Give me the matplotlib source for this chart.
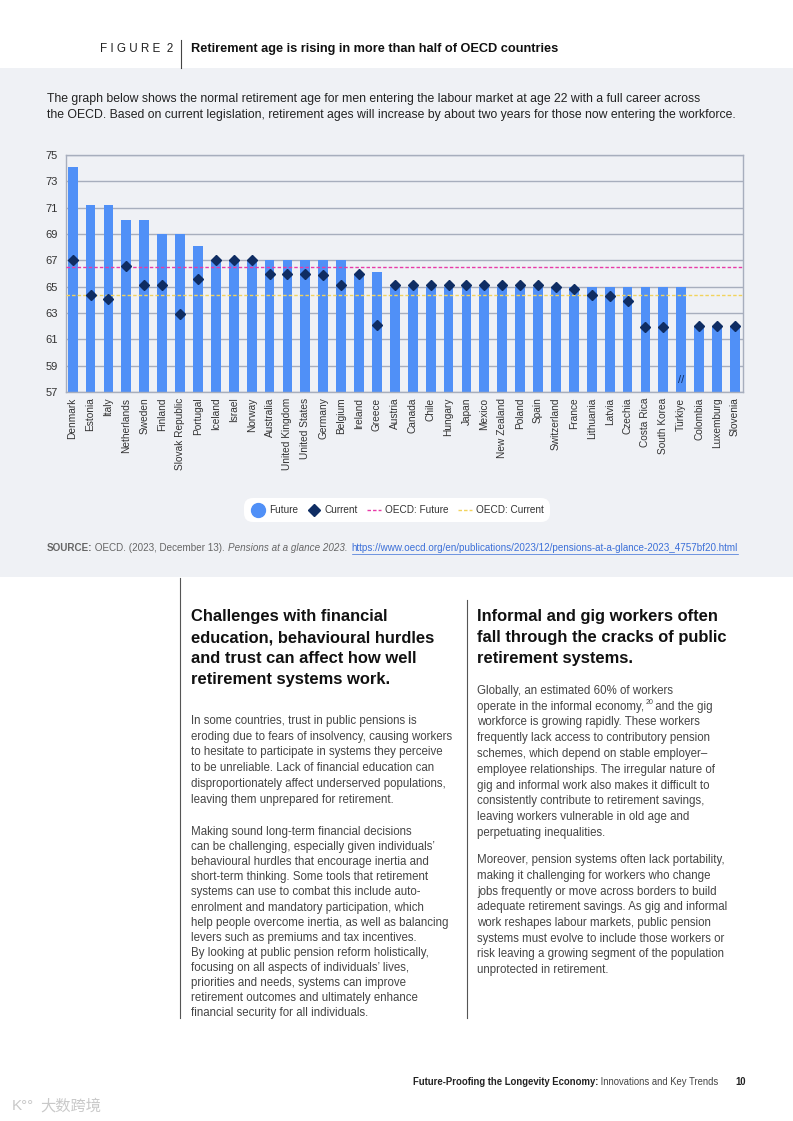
import matplotlib
matplotlib.use("Agg")
import matplotlib.pyplot as plt
from matplotlib.lines import Line2D
from matplotlib.patches import Rectangle

# ---------------- Data ----------------
countries = ["Denmark", "Estonia", "Italy", "Netherlands", "Sweden", "Finland",
             "Slovak Republic", "Portugal", "Iceland", "Israel", "Norway", "Australia",
             "United Kingdom", "United States", "Germany", "Belgium", "Ireland", "Greece",
             "Austria", "Canada", "Chile", "Hungary", "Japan", "Mexico", "New Zealand",
             "Poland", "Spain", "Switzerland", "France", "Lithuania", "Latvia", "Czechia",
             "Costa Rica", "South Korea", "Türkiye", "Colombia", "Luxemburg", "Slovenia"]
future = [74.1, 71.2, 71.2, 70.1, 70.1, 69.0, 69.0, 68.1, 67.0, 67.0, 67.0, 67.0,
          67.0, 67.0, 67.0, 67.0, 66.0, 66.1, 65.0, 65.0, 65.0, 65.0, 65.0, 65.0,
          65.0, 65.0, 65.0, 65.0, 65.0, 65.0, 65.0, 65.0, 65.0, 65.0, 65.0, 62.0,
          62.0, 62.0]
current = [67.0, 64.4, 64.1, 66.6, 65.1, 65.1, 62.9, 65.6, 67.0, 67.0, 67.0, 66.0,
           66.0, 66.0, 65.9, 65.1, 66.0, 62.1, 65.1, 65.1, 65.1, 65.1, 65.1, 65.1,
           65.1, 65.1, 65.1, 65.0, 64.8, 64.4, 64.3, 63.9, 61.9, 61.9, 52.0, 62.0,
           62.0, 62.0]
oecd_future = 66.5
oecd_current = 64.4
y_ticks = [57, 59, 61, 63, 65, 67, 69, 71, 73, 75]
break_country = "Türkiye"

# ---------------- Style ----------------
W, H = 793, 1121
BAND = "#eff1f5"
BLUE = "#5090f7"
NAVY = "#0f2d63"
PINK = "#e83aa8"
YELLOW = "#f2d35c"
GRID = "#a7aebd"
BODY = "#454545"
FONT = "Liberation Sans"

plt.rcParams["font.family"] = [FONT, "DejaVu Sans"]


def fx(x):
    return x / W


def fy(y):
    return 1 - y / H


fig = plt.figure(figsize=(W / 100, H / 100), dpi=100)
fig.patch.set_facecolor("white")
renderer = fig.canvas.get_renderer()

# grey band behind the figure block
fig.patches.append(Rectangle((0, fy(577)), 1, fy(68) - fy(577), transform=fig.transFigure,
                             facecolor=BAND, edgecolor="none", zorder=-5))


def put(x, y, s, size, color="#222222", weight="normal", style="normal", **kw):
    return fig.text(fx(x), fy(y), s, fontsize=size, color=color, fontweight=weight,
                    fontstyle=style, va="center", ha="left", **kw)


def run(x, y, pieces, gap=0):
    """Place text pieces one after another on one line."""
    for s, size, color, weight, style in pieces:
        t = put(x, y, s, size, color, weight, style)
        bb = t.get_window_extent(renderer)
        x += bb.width + gap
    return x


def vline(x, y0, y1, color="#555555", lw=0.8):
    fig.add_artist(Line2D([fx(x), fx(x)], [fy(y0), fy(y1)], transform=fig.transFigure,
                          color=color, lw=lw))


# ---------------- Header ----------------
put(100, 49, "F I G U R E  2", 8.4, "#222222")
vline(181, 40, 68, "#444444")
put(191, 49, "Retirement age is rising in more than half of OECD countries", 9.2,
    "#111111", "bold")

put(47, 99, "The graph below shows the normal retirement age for men entering the labour "
            "market at age 22 with a full career across", 8.85, "#222222")
put(47, 115, "the OECD. Based on current legislation, retirement ages will increase by "
             "about two years for those now entering the workforce.", 8.85, "#222222")

# ---------------- Chart ----------------
ax = fig.add_axes([fx(66), fy(392), (743 - 66) / W, (392 - 155) / H])
ax.set_facecolor(BAND)
x = list(range(len(countries)))
ax.bar(x, future, width=0.55, color=BLUE, zorder=2)
ax.plot(x, current, linestyle="none", marker="D", markersize=4.8, color=NAVY, zorder=4)
ax.axhline(oecd_future, color=PINK, lw=1.0, ls=(0, (2.5, 1.5)), zorder=3)
ax.axhline(oecd_current, color=YELLOW, lw=1.0, ls=(0, (2.5, 1.5)), zorder=3)

# axis break marker for the value below the axis
bi = countries.index(break_country)
ax.text(bi, y_ticks[0] + 0.9, "//", ha="center", va="center", fontsize=8, color=NAVY,
        zorder=5)

ax.set_ylim(y_ticks[0], y_ticks[-1])
ax.set_xlim(-0.37, len(countries) - 0.55)
ax.set_yticks(y_ticks)
ax.set_xticks(x)
ax.set_xticklabels(countries, rotation=90, color="#333333")
ax.tick_params(axis="both", length=0, labelcolor="#333333")
ax.tick_params(axis="x", pad=4, labelsize=7.3)
ax.tick_params(axis="y", pad=6, labelsize=8)
ax.grid(axis="y", color=GRID, lw=1.0, zorder=1)
ax.set_axisbelow(True)
for sp in ax.spines.values():
    sp.set_color(GRID)
    sp.set_linewidth(1.0)

# ---------------- Legend ----------------
handles = [
    Line2D([], [], linestyle="none", marker="o", markersize=10, color=BLUE, label="Future"),
    Line2D([], [], linestyle="none", marker="D", markersize=6.5, color=NAVY, label="Current"),
    Line2D([], [], color=PINK, lw=1.0, ls=(0, (2.5, 1.5)), label="OECD: Future"),
    Line2D([], [], color=YELLOW, lw=1.0, ls=(0, (2.5, 1.5)), label="OECD: Current"),
]
leg = fig.legend(handles=handles, loc="center", bbox_to_anchor=(fx(397), fy(510)),
                 ncol=4, fontsize=7.2, frameon=True, handlelength=1.4, handletextpad=0.4,
                 columnspacing=0.9, borderpad=0.5, labelcolor="#333333")
frame = leg.get_frame()
frame.set_facecolor("white")
frame.set_edgecolor("none")
frame.set_alpha(1)
frame.set_boxstyle("round,pad=0.2,rounding_size=0.9")

# ---------------- Source ----------------
SRC = 7.1
end = run(47, 548, [
    ("SOURCE:", SRC, "#666666", "bold", "normal"),
    (" OECD. (2023, December 13). ", SRC, "#666666", "normal", "normal"),
    ("Pensions at a glance 2023.", SRC, "#666666", "normal", "italic"),
])
end += 4
link = put(end, 548, "https://www.oecd.org/en/publications/2023/12/pensions-at-a-glance-2023_4757bf20.html",
           SRC, "#3b6fd8")
lb = link.get_window_extent(renderer)
fig.add_artist(Line2D([fx(end), fx(end + lb.width)], [fy(553.5), fy(553.5)],
                      transform=fig.transFigure, color="#3b6fd8", lw=0.5))

# ---------------- Text columns ----------------
vline(180, 578, 1018)
vline(467, 600, 1018)

HEAD = 11.9
left_head = ["Challenges with financial", "education, behavioural hurdles",
             "and trust can affect how well", "retirement systems work."]
right_head = ["Informal and gig workers often", "fall through the cracks of public",
              "retirement systems."]
for i, s in enumerate(left_head):
    put(191, 617 + i * 20.7, s, HEAD, "#111111", "bold")
for i, s in enumerate(right_head):
    put(477, 617 + i * 20.7, s, HEAD, "#111111", "bold")

TXT = 8.3
LS = 15.75
left_p1 = ["In some countries, trust in public pensions is",
           "eroding due to fears of insolvency, causing workers",
           "to hesitate to participate in systems they perceive",
           "to be unreliable. Lack of financial education can",
           "disproportionately affect underserved populations,",
           "leaving them unprepared for retirement."]
left_p2 = ["Making sound long-term financial decisions",
           "can be challenging, especially given individuals\u2019",
           "behavioural hurdles that encourage inertia and",
           "short-term thinking. Some tools that retirement",
           "systems can use to combat this include auto-",
           "enrolment and mandatory participation, which",
           "help people overcome inertia, as well as balancing",
           "levers such as premiums and tax incentives.",
           "By looking at public pension reform holistically,",
           "focusing on all aspects of individuals\u2019 lives,",
           "priorities and needs, systems can improve",
           "retirement outcomes and ultimately enhance",
           "financial security for all individuals."]
right_p1 = ["Globally, an estimated 60% of workers",
            "operate in the informal economy,",
            "workforce is growing rapidly. These workers",
            "frequently lack access to contributory pension",
            "schemes, which depend on stable employer\u2013",
            "employee relationships. The irregular nature of",
            "gig and informal work also makes it difficult to",
            "consistently contribute to retirement savings,",
            "leaving workers vulnerable in old age and",
            "perpetuating inequalities."]
right_p2 = ["Moreover, pension systems often lack portability,",
            "making it challenging for workers who change",
            "jobs frequently or move across borders to build",
            "adequate retirement savings. As gig and informal",
            "work reshapes labour markets, public pension",
            "systems must evolve to include those workers or",
            "risk leaving a growing segment of the population",
            "unprotected in retirement."]

for i, s in enumerate(left_p1):
    put(191, 721 + i * LS, s, TXT, BODY)
for i, s in enumerate(left_p2):
    put(191, 832 + i * 15.1, s, TXT, BODY)
for i, s in enumerate(right_p1):
    yy = 691 + i * LS
    if i == 1:
        e = run(477, yy, [(s, TXT, BODY, "normal", "normal")])
        put(e + 1, yy - 4, "20", 5, BODY)
        put(e + 8, yy, " and the gig", TXT, BODY)
    else:
        put(477, yy, s, TXT, BODY)
for i, s in enumerate(right_p2):
    put(477, 860 + i * LS, s, TXT, BODY)

# ---------------- Footer ----------------
run(413, 1082, [
    ("Future-Proofing the Longevity Economy:", 6.85, "#222222", "bold", "normal"),
    (" Innovations and Key Trends", 6.85, "#444444", "normal", "normal"),
])
put(735, 1082, "10", 6.85, "#222222", "bold")

fig.text(fx(12), fy(1106), "K\u00b0\u00b0", fontsize=11, color="#c9c9c9", va="center")
fig.text(fx(40), fy(1106), "大数跨境", fontsize=11, color="#c9c9c9", va="center",
         family=["Noto Sans CJK SC", "DejaVu Sans"])

fig.savefig("out.png", dpi=100)
